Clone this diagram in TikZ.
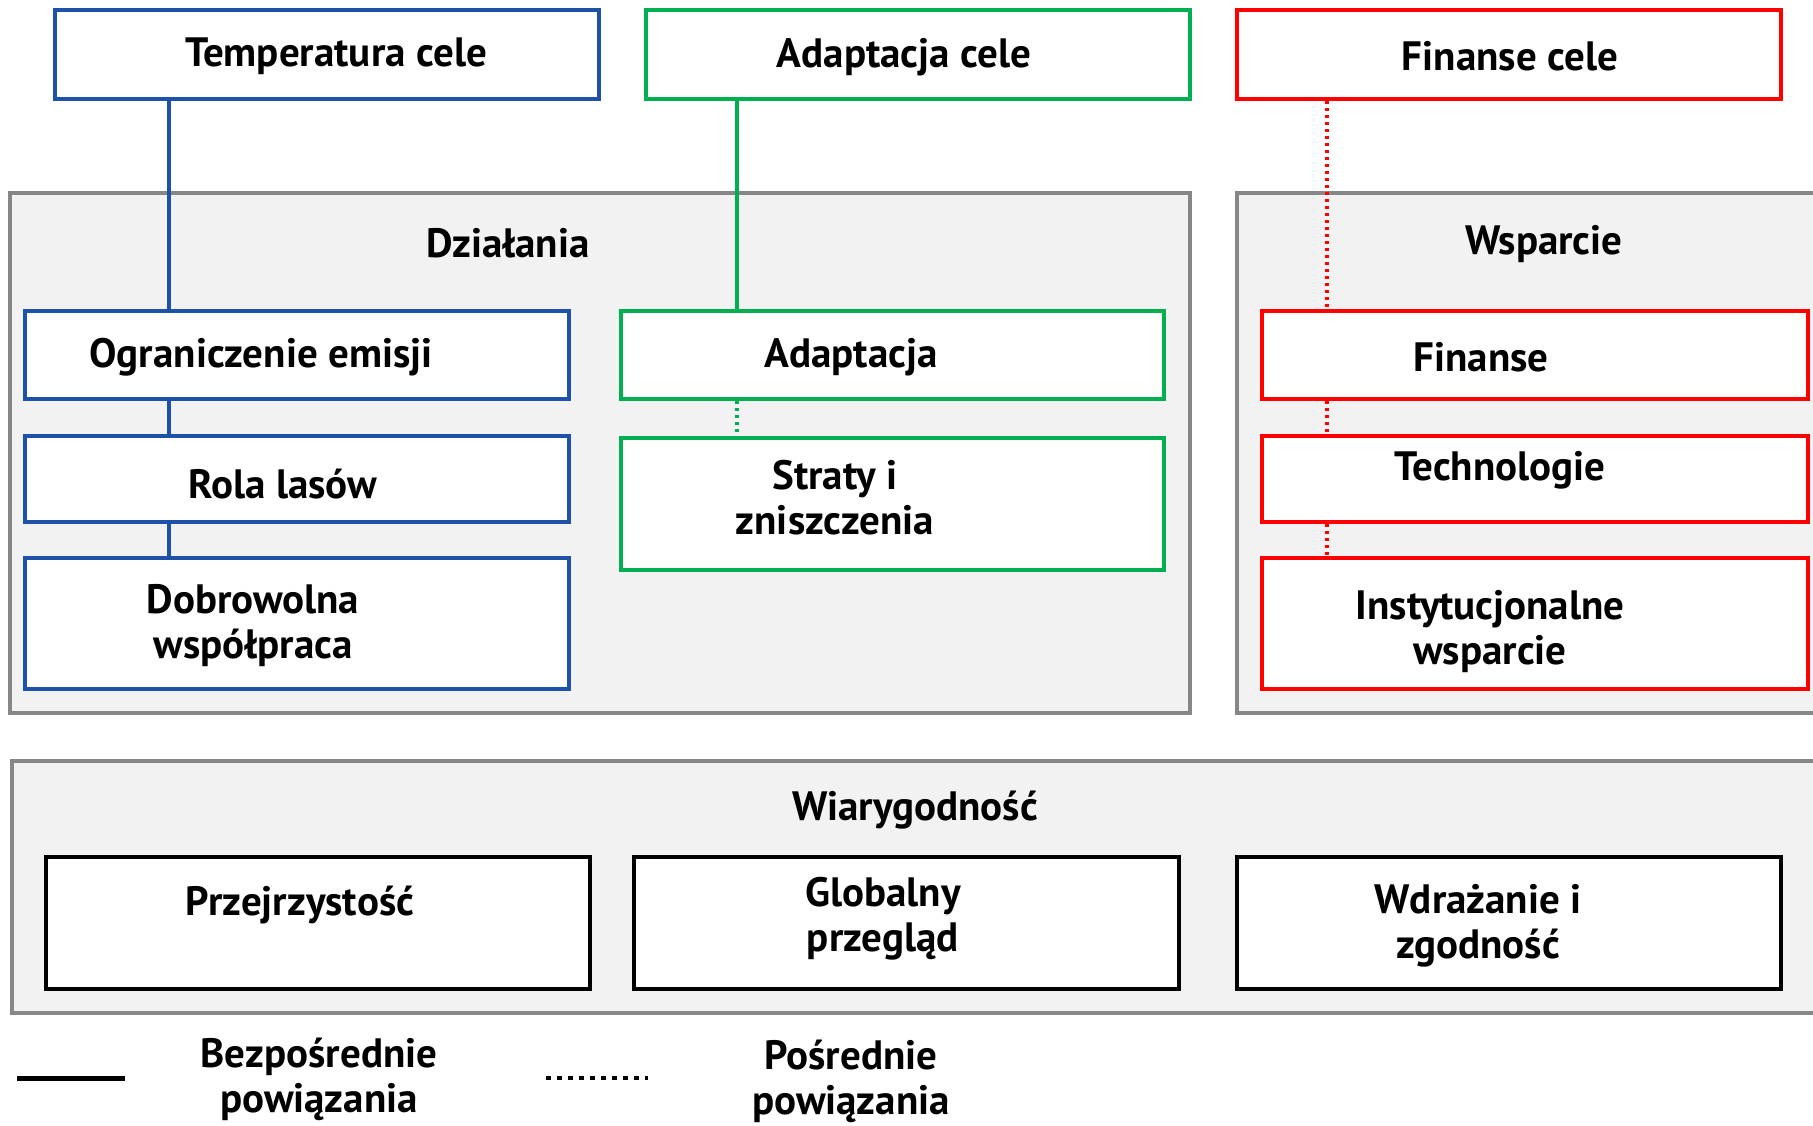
\documentclass[tikz,border=0pt]{standalone}
\usepackage{fontspec}
\setmainfont{PT Sans}
\usepackage{tikz}

\definecolor{celblue}{RGB}{30,82,168}
\definecolor{celgreen}{RGB}{0,176,80}
\definecolor{celred}{RGB}{255,0,0}
\definecolor{grpgray}{RGB}{135,135,135}
\definecolor{grpfill}{RGB}{242,242,242}

\begin{document}
\begin{tikzpicture}[x=1pt, y=-1pt,
    every node/.style={font=\bfseries\fontsize{41}{45}\selectfont},
    grp/.style={rectangle, draw=grpgray, line width=4pt, fill=grpfill, inner sep=0pt},
    box/.style={rectangle, draw, line width=4.5pt, fill=white, inner sep=0pt},
    txt/.style={align=center, inner sep=0pt},
    direct/.style={line width=3.5pt},
    indirect/.style={line width=3.5pt, dash pattern=on 3pt off 4pt}] % pixel units

        \useasboundingbox (0,0) rectangle (1813,1125);
        \clip (0,0) rectangle (1813,1125);

        % Grey groups
        \node[grp, minimum width=1180pt, minimum height=520pt] (dzi) at (600,453) {};
        \node[grp, minimum width=613pt, minimum height=520pt] (wsp) at (1543.5,453) {};
        \node[grp, minimum width=1838pt, minimum height=252pt] (wia) at (931,887) {};

        % x positions of the vertical connectors
        \coordinate (lblue) at (169,0);
        \coordinate (lgreen) at (737,0);
        \coordinate (lred) at (1327,0);

        % Goal boxes
        \node[box, draw=celblue, minimum width=544pt, minimum height=89pt] (temp) at (327,54.5) {};
        \node[box, draw=celgreen, minimum width=544pt, minimum height=89pt] (adc) at (918,54.5) {};
        \node[box, draw=celred, minimum width=544pt, minimum height=89pt] (fic) at (1509,54.5) {};

        % Actions
        \node[box, draw=celblue, minimum width=544pt, minimum height=88pt] (oge) at (297,355) {};
        \node[box, draw=celblue, minimum width=544pt, minimum height=86pt] (rol) at (297,479) {};
        \node[box, draw=celblue, minimum width=544pt, minimum height=131pt] (dob) at (297,623.5) {};
        \node[box, draw=celgreen, minimum width=543pt, minimum height=88pt] (ada) at (892.5,355) {};
        \node[box, draw=celgreen, minimum width=543pt, minimum height=132pt] (str) at (892.5,504) {};

        % Support
        \node[box, draw=celred, minimum width=546pt, minimum height=88pt] (fin) at (1535,355) {};
        \node[box, draw=celred, minimum width=546pt, minimum height=86pt] (tec) at (1535,479) {};
        \node[box, draw=celred, minimum width=546pt, minimum height=131pt] (ins) at (1535,623.5) {};

        % Credibility
        \node[box, draw=black, minimum width=544pt, minimum height=132pt] (prz) at (318,923) {};
        \node[box, draw=black, minimum width=545pt, minimum height=132pt] (glo) at (906.5,923) {};
        \node[box, draw=black, minimum width=544pt, minimum height=132pt] (wdr) at (1509,923) {};

        % Connectors
        \draw[direct, celblue] (temp.south -| lblue) -- (oge.north -| lblue);
        \draw[direct, celblue] (oge.south -| lblue) -- (rol.north -| lblue);
        \draw[direct, celblue] (rol.south -| lblue) -- (dob.north -| lblue);
        \draw[direct, celgreen] (adc.south -| lgreen) -- (ada.north -| lgreen);
        \draw[indirect, celgreen] (ada.south -| lgreen) -- (str.north -| lgreen);
        \draw[indirect, celred] (fic.south -| lred) -- (fin.north -| lred);
        \draw[indirect, celred] (fin.south -| lred) -- (tec.north -| lred);
        \draw[indirect, celred] (tec.south -| lred) -- (ins.north -| lred);

        % Texts
        \node[txt] (t-temp) at (336,56) {Temperatura cele};
        \node[txt] (t-adc) at (904,57) {Adaptacja cele};
        \node[txt] (t-fic) at (1510,56) {Finanse cele};
        \node[txt] (t-dzi) at (508,243) {Działania};
        \node[txt] (t-wsp) at (1544,244) {Wsparcie};
        \node[txt] (t-oge) at (261,357) {Ograniczenie emisji};
        \node[txt] (t-rol) at (283,484) {Rola lasów};
        \node[txt] (t-dob) at (253,626) {Dobrowolna\\współpraca};
        \node[txt] (t-ada) at (851,357) {Adaptacja};
        \node[txt] (t-str) at (835,498) {Straty i\\zniszczenia};
        \node[txt] (t-fin) at (1481,357) {Finanse};
        \node[txt] (t-tec) at (1500,470) {Technologie};
        \node[txt] (t-ins) at (1490,632) {Instytucjonalne\\wsparcie};
        \node[txt] (t-wia) at (915,810) {Wiarygodność};
        \node[txt] (t-prz) at (300,905) {Przejrzystość};
        \node[txt] (t-glo) at (883,919) {Globalny\\przegląd};
        \node[txt] (t-wdr) at (1478,926) {Wdrażanie i\\zgodność};

        % Legend
        \coordinate (lgA) at (17,1078);
        \coordinate (lgB) at (125,1078);
        \coordinate (lgC) at (546,1078);
        \coordinate (lgD) at (648,1078);
        \draw[line width=5pt] (lgA) -- (lgB);
        \draw[line width=4pt, dash pattern=on 5pt off 6pt] (lgC) -- (lgD);
        \node[txt] (t-dir) at (319,1079) {Bezpośrednie\\powiązania};
        \node[txt] (t-ind) at (851,1081) {Pośrednie\\powiązania};
        \end{tikzpicture}
\end{document}
